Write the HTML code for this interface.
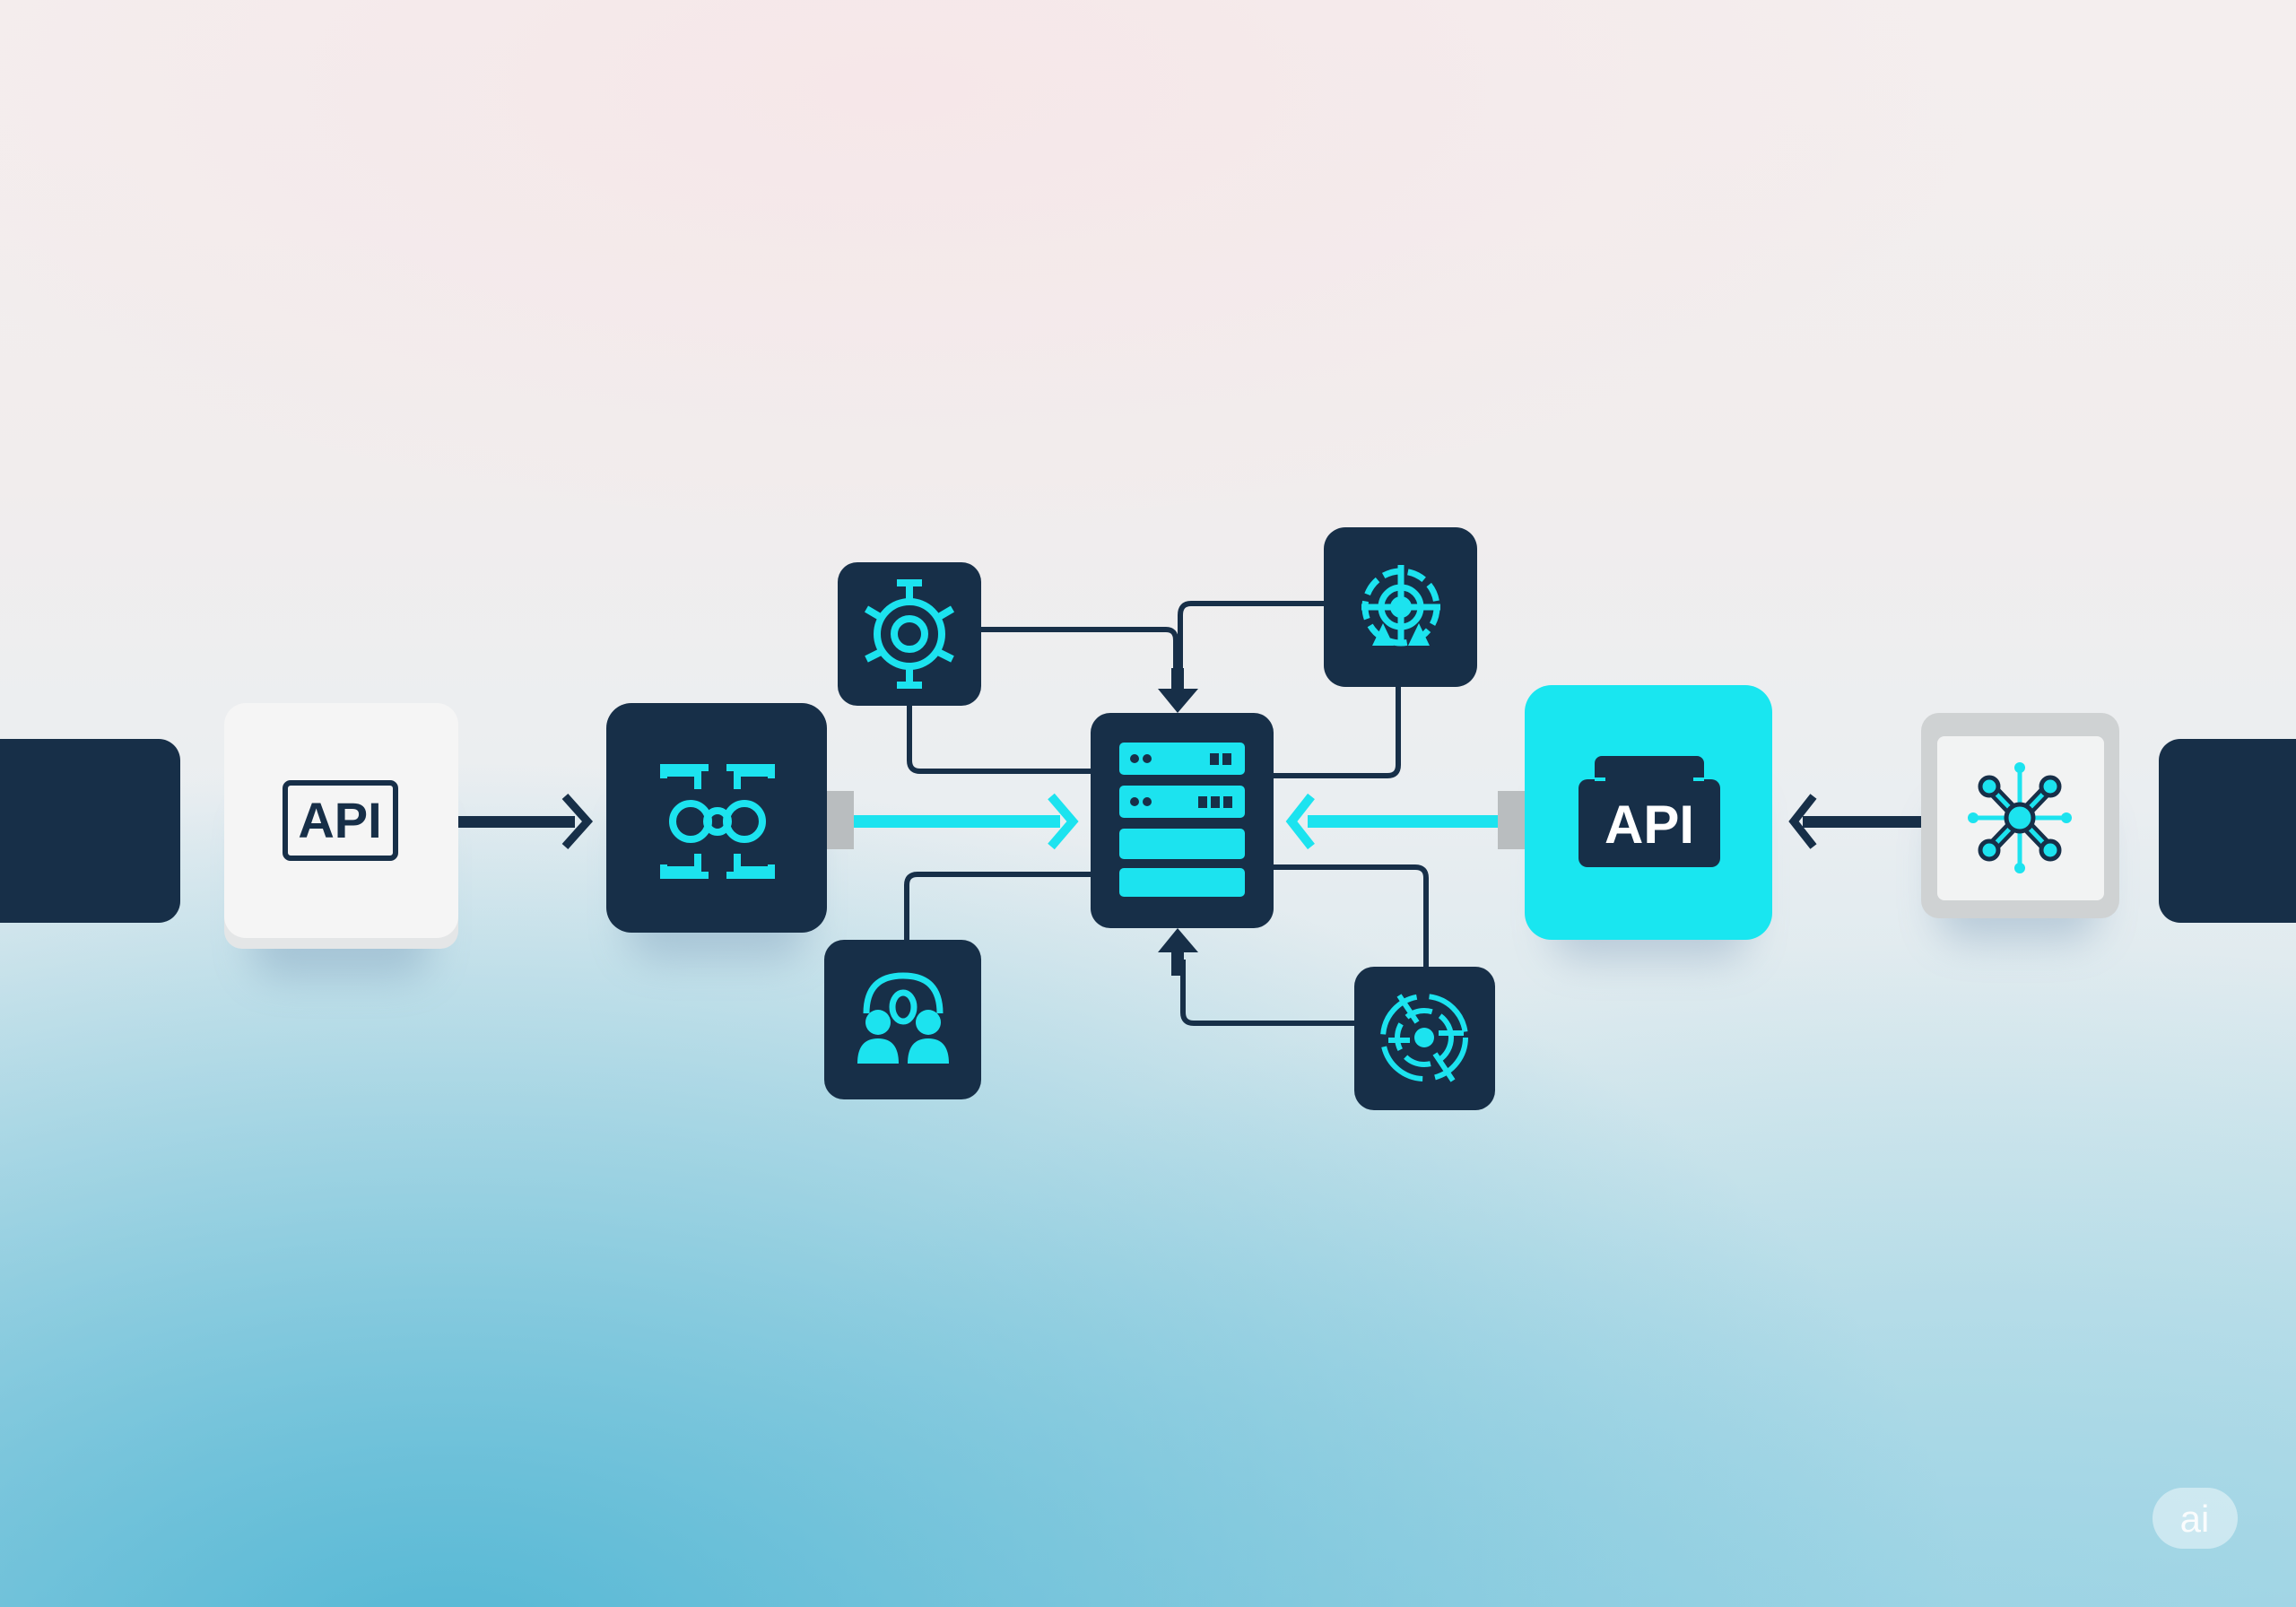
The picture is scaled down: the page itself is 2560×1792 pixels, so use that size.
<!DOCTYPE html>
<html><head><meta charset="utf-8"><style>
html,body{margin:0;padding:0}
body{width:2560px;height:1792px;overflow:hidden;position:relative;font-family:"Liberation Sans",sans-serif;
background:
radial-gradient(ellipse 1700px 1000px at 500px 1850px,rgba(80,182,212,0.95),rgba(80,182,212,0) 100%),
radial-gradient(ellipse 1500px 800px at 2200px 1850px,rgba(150,210,228,0.8),rgba(150,210,228,0) 100%),
radial-gradient(ellipse 1200px 500px at 1000px 100px,rgba(246,230,232,0.9),rgba(246,230,232,0) 100%),
linear-gradient(180deg,#f4eeee 0%,#f1eded 30%,#eaeef1 50%,#d2e6ec 75%,#b2dae6 100%);}
svg{position:absolute;left:0;top:0}
</style></head><body>
<svg width="2560" height="1792" viewBox="0 0 2560 1792">
<defs>
<filter id="sh" x="-30%" y="-30%" width="160%" height="180%"><feGaussianBlur stdDeviation="22"/></filter>
</defs>
<g fill="#6b8fb0" opacity="0.35" filter="url(#sh)">
<rect x="280" y="900" width="200" height="190" rx="30"/>
<rect x="700" y="900" width="200" height="170" rx="30"/>
<rect x="1730" y="880" width="220" height="190" rx="30"/>
<rect x="2160" y="900" width="180" height="150" rx="30"/>
</g>
<rect x="-40" y="824" width="241" height="205" rx="24" fill="#172f48"/>
<rect x="2407" y="824" width="200" height="205" rx="24" fill="#172f48"/>

<g fill="none" stroke="#172f48" stroke-width="6" stroke-linejoin="round">
<path d="M1094 702 H1300 Q1311 702 1311 714 V760"/>
<path d="M1476 673 H1328 Q1316 673 1316 686 V760"/>
<path d="M1014 787 V848 Q1014 860 1026 860 H1216"/>
<path d="M1559 766 V853 Q1559 865 1547 865 H1420"/>
<path d="M1011 1048 V987 Q1011 975 1023 975 H1216"/>
<path d="M1590 1078 V979 Q1590 967 1578 967 H1420"/>
<path d="M1510 1141 H1331 Q1319 1141 1319 1129 V1070"/>
</g>
<g fill="#172f48">
<rect x="1306" y="745" width="14" height="30"/>
<polygon points="1291,768 1336,768 1313,795"/>
<rect x="1306" y="1058" width="14" height="30"/>
<polygon points="1291,1062 1336,1062 1313,1035"/>
</g>

<rect x="250" y="800" width="261" height="258" rx="20" fill="#e4e6e7"/>
<rect x="250" y="784" width="261" height="262" rx="24" fill="#f5f5f5"/>
<rect x="318" y="873" width="123" height="84" rx="6" fill="none" stroke="#172f48" stroke-width="6"/>
<text x="379" y="934" font-size="56" font-weight="700" fill="#172f48" text-anchor="middle" font-family="Liberation Sans, sans-serif">API</text>

<rect x="511" y="910" width="130" height="13" fill="#172f48"/>
<polyline points="630,888 655,916 630,944" fill="none" stroke="#172f48" stroke-width="9"/>

<rect x="676" y="784" width="246" height="256" rx="28" fill="#172f48"/>
<g stroke="#1ce3ef" stroke-width="8" fill="none">
<circle cx="770" cy="916" r="20"/><circle cx="830" cy="916" r="20"/><circle cx="800" cy="916" r="12"/>
<path d="M740 868 V856 H790 M740 862 H778 V880 M860 868 V856 H810 M860 862 H822 V880"/>
<path d="M740 964 V976 H790 M740 970 H778 V952 M860 964 V976 H810 M860 970 H822 V952"/>
</g>
<rect x="922" y="882" width="30" height="65" fill="#b9bdbf"/>
<rect x="952" y="909" width="230" height="14" fill="#1ce3ef"/>
<polyline points="1172,888 1196,916 1172,944" fill="none" stroke="#1ce3ef" stroke-width="10"/>

<rect x="1216" y="795" width="204" height="240" rx="22" fill="#172f48"/>
<g fill="#1ce3ef">
<rect x="1248" y="828" width="140" height="36" rx="5"/>
<rect x="1248" y="876" width="140" height="36" rx="5"/>
<rect x="1248" y="924" width="140" height="34" rx="5"/>
<rect x="1248" y="968" width="140" height="32" rx="5"/>
</g>
<g fill="#172f48">
<circle cx="1265" cy="846" r="5"/><circle cx="1279" cy="846" r="5"/>
<rect x="1349" y="840" width="10" height="13"/><rect x="1363" y="840" width="10" height="13"/>
<circle cx="1265" cy="894" r="5"/><circle cx="1279" cy="894" r="5"/>
<rect x="1336" y="888" width="10" height="13"/><rect x="1350" y="888" width="10" height="13"/><rect x="1364" y="888" width="10" height="13"/>
</g>

<rect x="934" y="627" width="160" height="160" rx="22" fill="#172f48"/>
<g stroke="#1ce3ef" stroke-width="8" fill="none">
<circle cx="1014" cy="707" r="36"/><circle cx="1014" cy="707" r="17"/>
<path d="M1014 671 V650 M1000 650 H1028 M1014 743 V764 M1000 764 H1028"/>
<path d="M983 689 L966 679 M986 725 L966 735 M1045 689 L1062 679 M1042 725 L1062 735"/>
</g>

<rect x="1476" y="588" width="171" height="178" rx="24" fill="#172f48"/>
<g stroke="#1ce3ef" stroke-width="7" fill="none">
<circle cx="1562" cy="677" r="40" stroke-dasharray="20 8"/>
<circle cx="1562" cy="677" r="22"/>
<path d="M1562 630 V720 M1518 677 H1606"/>
</g>
<circle cx="1562" cy="677" r="12" fill="#1ce3ef"/>
<polygon points="1530,720 1542,695 1554,720" fill="#1ce3ef"/>
<polygon points="1570,720 1582,695 1594,720" fill="#1ce3ef"/>

<rect x="919" y="1048" width="175" height="178" rx="22" fill="#172f48"/>
<g stroke="#1ce3ef" stroke-width="7" fill="none">
<path d="M966 1130 Q966 1088 1007 1088 Q1048 1088 1048 1130"/>
<ellipse cx="1007" cy="1123" rx="12" ry="16"/>
</g>
<g fill="#1ce3ef">
<circle cx="979" cy="1140" r="14"/><circle cx="1035" cy="1140" r="14"/>
<path d="M956 1186 Q956 1158 979 1158 Q1002 1158 1002 1186 Z"/>
<path d="M1012 1186 Q1012 1158 1035 1158 Q1058 1158 1058 1186 Z"/>
</g>

<rect x="1510" y="1078" width="157" height="160" rx="22" fill="#172f48"/>
<g stroke="#1ce3ef" stroke-width="6" fill="none">
<circle cx="1588" cy="1157" r="46" stroke-dasharray="60 14"/>
<circle cx="1588" cy="1157" r="30" stroke-dasharray="30 10"/>
<path d="M1548 1160 H1572 M1604 1152 H1632 M1560 1110 L1580 1140 M1600 1175 L1620 1205"/>
</g>
<circle cx="1588" cy="1157" r="11" fill="#1ce3ef"/>

<rect x="1458" y="909" width="212" height="14" fill="#1ce3ef"/>
<polyline points="1462,888 1440,916 1462,944" fill="none" stroke="#1ce3ef" stroke-width="10"/>
<rect x="1670" y="882" width="30" height="65" fill="#b9bdbf"/>

<rect x="1700" y="764" width="276" height="284" rx="30" fill="#19e6f0"/>
<rect x="1778" y="843" width="122" height="40" rx="8" fill="#172f48"/>
<rect x="1760" y="869" width="158" height="98" rx="10" fill="#172f48"/>
<path d="M1778 869 H1790 M1888 869 H1900" stroke="#19e6f0" stroke-width="4"/>
<text x="1839" y="940" font-size="60" font-weight="700" fill="#ffffff" text-anchor="middle" font-family="Liberation Sans, sans-serif">API</text>

<rect x="2010" y="910" width="132" height="13" fill="#172f48"/>
<polyline points="2022,888 2000,916 2022,944" fill="none" stroke="#172f48" stroke-width="9"/>

<rect x="2142" y="795" width="221" height="229" rx="20" fill="#cfd2d3"/>
<rect x="2160" y="821" width="186" height="183" rx="8" fill="#f2f3f3"/>
<g stroke="#172f48" stroke-width="14" stroke-linecap="round"><path d="M2218 877 L2286 948 M2286 877 L2218 948"/></g>
<g stroke="#1ce3ef" stroke-width="5"><path d="M2218 877 L2286 948 M2286 877 L2218 948 M2252 856 V968 M2202 912 H2302"/></g>
<g fill="#1ce3ef" stroke="#172f48" stroke-width="5">
<circle cx="2252" cy="912" r="15"/>
<circle cx="2218" cy="877" r="10"/><circle cx="2286" cy="877" r="10"/>
<circle cx="2218" cy="948" r="10"/><circle cx="2286" cy="948" r="10"/>
</g>
<g fill="#1ce3ef"><circle cx="2252" cy="856" r="6"/><circle cx="2252" cy="968" r="6"/><circle cx="2200" cy="912" r="6"/><circle cx="2304" cy="912" r="6"/></g>

<rect x="2400" y="1659" width="95" height="68" rx="34" fill="#ffffff" opacity="0.45"/>
<text x="2447" y="1708" font-size="42" fill="#ffffff" text-anchor="middle" opacity="0.9" font-family="Liberation Sans, sans-serif">ai</text>
</svg>
</body></html>
